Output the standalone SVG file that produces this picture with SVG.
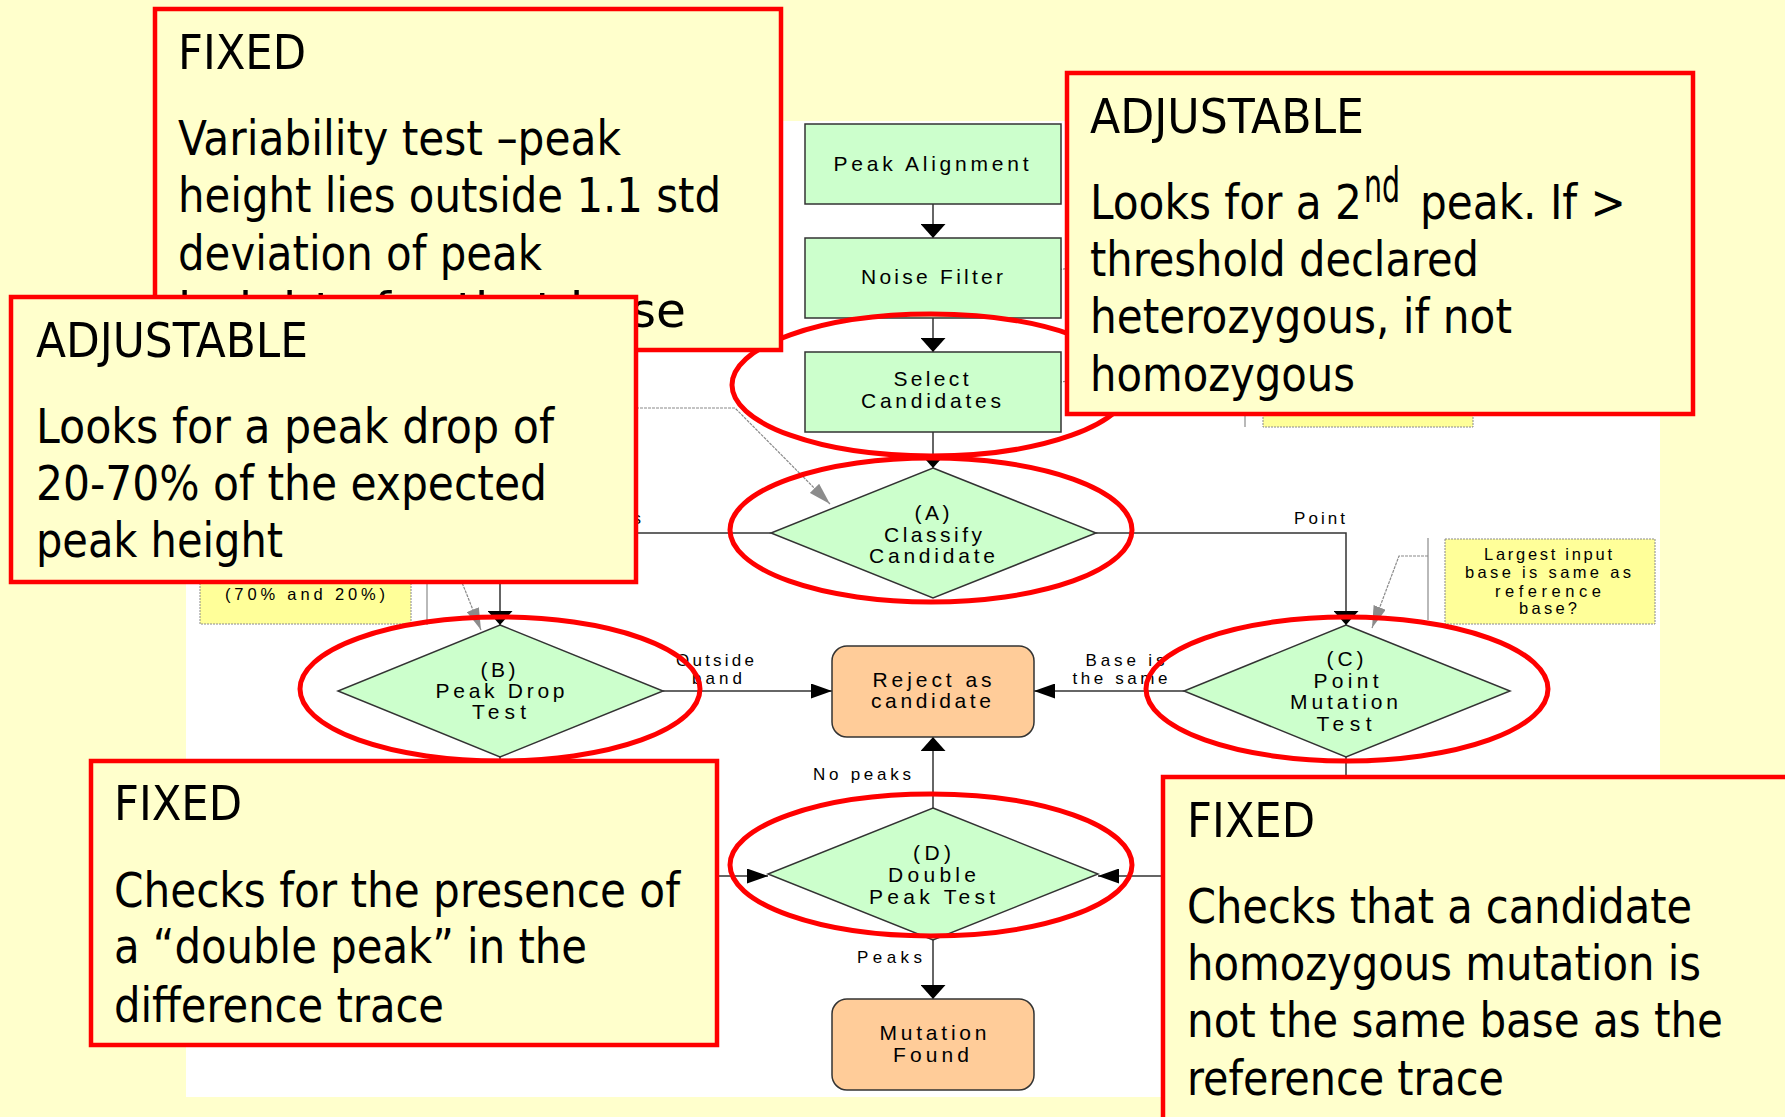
<svg xmlns="http://www.w3.org/2000/svg" width="1785" height="1117" viewBox="0 0 1785 1117">
  <style>
    .bg { fill: #FFFFCC; }
    .sheet { fill: #FFFFFF; }
    .proc { fill: #CCFFCC; stroke: #333333; stroke-width: 1.5; }
    .term { fill: #FFCC99; stroke: #333333; stroke-width: 1.5; }
    .note { fill: #FFFF99; stroke: #8A8A8A; stroke-width: 1; stroke-dasharray: 2 1; }
    .bracket { fill: none; stroke: #8A8A8A; stroke-width: 1.2; }
    .ft { font-family: "Liberation Sans", Arial, sans-serif; font-size: 21px; fill: #000000; text-anchor: middle; }
    .lbl { font-family: "Liberation Sans", Arial, sans-serif; font-size: 17px; fill: #000000; }
    .nt { font-family: "Liberation Sans", Arial, sans-serif; font-size: 16.5px; fill: #000000; text-anchor: middle; }
    .conn { fill: none; stroke: #333333; stroke-width: 1.5; }
    .ann { fill: none; stroke: #8A8A8A; stroke-width: 1.2; stroke-dasharray: 3 1; }
    .ring { fill: none; stroke: #FF0000; stroke-width: 5; }
    .callout { fill: #FFFFCC; stroke: #FF0000; stroke-width: 4.5; }
    .ct { font-family: Tahoma, "DejaVu Sans Condensed", "DejaVu Sans", sans-serif; font-size: 48px; fill: #000000; }
  </style>
  <defs>
    <marker id="arrowV" markerUnits="userSpaceOnUse" markerWidth="14" markerHeight="25" refX="14" refY="12.5" orient="auto">
      <path d="M0,0 L14,12.5 L0,25 Z" fill="#000000"/>
    </marker>
    <marker id="arrowH" markerUnits="userSpaceOnUse" markerWidth="21" markerHeight="15" refX="21" refY="7.5" orient="auto">
      <path d="M0,0 L21,7.5 L0,15 Z" fill="#000000"/>
    </marker>
    <marker id="arrowG" markerUnits="userSpaceOnUse" markerWidth="22" markerHeight="13" refX="22" refY="6.5" orient="auto">
      <path d="M0,0 L22,6.5 L0,13 Z" fill="#8C8C8C"/>
    </marker>
  </defs>

  <!-- slide background and flowchart sheet -->
  <rect class="bg" x="0" y="0" width="1785" height="1117"/>
  <rect class="sheet" x="186" y="121" width="1474" height="976"/>

  <!-- side notes of the flowchart -->
  <g id="note-band">
    <rect class="note" x="200" y="515" width="211" height="109"/>
    <text class="nt" x="305" y="600" textLength="160" lengthAdjust="spacing">(70% and 20%)</text>
    <line class="bracket" x1="427" y1="515" x2="427" y2="625"/>
  </g>
  <g id="note-threshold">
    <rect class="note" x="1263" y="375" width="210" height="52"/>
    <line class="bracket" x1="1245" y1="375" x2="1245" y2="427"/>
  </g>
  <g id="note-largest">
    <rect class="note" x="1445" y="539" width="210" height="85"/>
    <text class="nt" x="1548" y="560" textLength="128" lengthAdjust="spacing">Largest input</text>
    <text class="nt" x="1548" y="578" textLength="166" lengthAdjust="spacing">base is same as</text>
    <text class="nt" x="1548" y="597" textLength="106" lengthAdjust="spacing">reference</text>
    <text class="nt" x="1548" y="614" textLength="58" lengthAdjust="spacing">base?</text>
    <line class="bracket" x1="1428" y1="538" x2="1428" y2="620"/>
  </g>

  <!-- connectors -->
  <g id="connectors">
    <path class="conn" d="M933,204 V238" marker-end="url(#arrowV)"/>
    <path class="conn" d="M933,318 V352" marker-end="url(#arrowV)"/>
    <path class="conn" d="M933,432 V468" marker-end="url(#arrowV)"/>
    <path class="conn" d="M771,533 H500 V625" marker-end="url(#arrowV)"/>
    <path class="conn" d="M1096,533 H1346 V625" marker-end="url(#arrowV)"/>
    <path class="conn" d="M663,691 H832" marker-end="url(#arrowH)"/>
    <path class="conn" d="M1184,691 H1034" marker-end="url(#arrowH)"/>
    <path class="conn" d="M933,808 V737" marker-end="url(#arrowV)"/>
    <path class="conn" d="M933,940 V999" marker-end="url(#arrowV)"/>
    <path class="conn" d="M500,757 V876 H768" marker-end="url(#arrowH)"/>
    <path class="conn" d="M1346,757 V876 H1098" marker-end="url(#arrowH)"/>
    <!-- annotation leaders -->
    <path class="ann" d="M600,408 H735 L830,504" marker-end="url(#arrowG)"/>
    <path class="ann" d="M437,520 L481,630" marker-end="url(#arrowG)"/>
    <path class="ann" d="M1428,556 H1399 L1372,628" marker-end="url(#arrowG)"/>
    <path class="ann" d="M1070,268 L1050,271 L1027,274" marker-end="url(#arrowG)"/>
    <path class="ann" d="M1070,381 L1050,383 L1027,386" marker-end="url(#arrowG)"/>
    <!-- branch labels -->
    <text class="lbl" x="641" y="524" text-anchor="end">Heterozygous</text>
    <text class="lbl" x="1294" y="524" textLength="51" lengthAdjust="spacing">Point</text>
    <text class="lbl" x="715" y="666" text-anchor="middle" textLength="78" lengthAdjust="spacing">Outside</text>
    <text class="lbl" x="717" y="684" text-anchor="middle" textLength="50" lengthAdjust="spacing">band</text>
    <text class="lbl" x="1125" y="666" text-anchor="middle" textLength="79" lengthAdjust="spacing">Base is</text>
    <text class="lbl" x="1120" y="684" text-anchor="middle" textLength="95" lengthAdjust="spacing">the same</text>
    <text class="lbl" x="813" y="780" textLength="98" lengthAdjust="spacing">No peaks</text>
    <text class="lbl" x="857" y="963" textLength="65" lengthAdjust="spacing">Peaks</text>
  </g>

  <!-- flowchart nodes -->
  <g id="peak-alignment">
    <rect class="proc" x="805" y="124" width="256" height="80"/>
    <text class="ft" x="931" y="171" textLength="195" lengthAdjust="spacing">Peak Alignment</text>
  </g>
  <g id="noise-filter">
    <rect class="proc" x="805" y="238" width="256" height="80"/>
    <text class="ft" x="932" y="284" textLength="142" lengthAdjust="spacing">Noise Filter</text>
  </g>
  <g id="select-candidates">
    <rect class="proc" x="805" y="352" width="256" height="80"/>
    <text class="ft" x="931" y="386" textLength="75" lengthAdjust="spacing">Select</text>
    <text class="ft" x="931" y="408" textLength="140" lengthAdjust="spacing">Candidates</text>
  </g>
  <g id="classify-candidate">
    <polygon class="proc" points="933,468 1096,533 933,598 771,533"/>
    <text class="ft" x="932" y="520" textLength="35" lengthAdjust="spacing">(A)</text>
    <text class="ft" x="933" y="542" textLength="98" lengthAdjust="spacing">Classify</text>
    <text class="ft" x="932" y="563" textLength="126" lengthAdjust="spacing">Candidate</text>
  </g>
  <g id="peak-drop-test">
    <polygon class="proc" points="500,625 663,691 500,757 338,691"/>
    <text class="ft" x="498" y="677" textLength="35" lengthAdjust="spacing">(B)</text>
    <text class="ft" x="500" y="698" textLength="129" lengthAdjust="spacing">Peak Drop</text>
    <text class="ft" x="499" y="719" textLength="54" lengthAdjust="spacing">Test</text>
  </g>
  <g id="reject">
    <rect class="term" x="832" y="646" width="202" height="91" rx="15" ry="15"/>
    <text class="ft" x="932" y="687" textLength="119" lengthAdjust="spacing">Reject as</text>
    <text class="ft" x="931" y="708" textLength="120" lengthAdjust="spacing">candidate</text>
  </g>
  <g id="point-mutation-test">
    <polygon class="proc" points="1346,625 1510,691 1346,757 1184,691"/>
    <text class="ft" x="1345" y="666" textLength="37" lengthAdjust="spacing">(C)</text>
    <text class="ft" x="1346" y="688" textLength="65" lengthAdjust="spacing">Point</text>
    <text class="ft" x="1344" y="709" textLength="108" lengthAdjust="spacing">Mutation</text>
    <text class="ft" x="1344" y="731" textLength="55" lengthAdjust="spacing">Test</text>
  </g>
  <g id="double-peak-test">
    <polygon class="proc" points="933,808 1098,874 933,940 768,874"/>
    <text class="ft" x="932" y="860" textLength="38" lengthAdjust="spacing">(D)</text>
    <text class="ft" x="932" y="882" textLength="88" lengthAdjust="spacing">Double</text>
    <text class="ft" x="932" y="904" textLength="126" lengthAdjust="spacing">Peak Test</text>
  </g>
  <g id="mutation-found">
    <rect class="term" x="832" y="999" width="202" height="91" rx="15" ry="15"/>
    <text class="ft" x="933" y="1040" textLength="107" lengthAdjust="spacing">Mutation</text>
    <text class="ft" x="931" y="1062" textLength="76" lengthAdjust="spacing">Found</text>
  </g>

  <!-- highlight rings -->
  <g id="highlights">
    <ellipse class="ring" cx="931" cy="385" rx="199" ry="71"/>
    <ellipse class="ring" cx="931" cy="530" rx="201" ry="72"/>
    <ellipse class="ring" cx="500" cy="689" rx="200" ry="72"/>
    <ellipse class="ring" cx="1347" cy="689" rx="201" ry="72"/>
    <ellipse class="ring" cx="931" cy="865" rx="201" ry="71"/>
  </g>

  <!-- explanatory callouts -->
  <g id="callout-variability">
    <rect class="callout" x="155" y="9" width="626" height="341"/>
    <text class="ct" x="178" y="69" textLength="128" lengthAdjust="spacingAndGlyphs">FIXED</text>
    <text class="ct" x="178" y="155" textLength="443" lengthAdjust="spacingAndGlyphs">Variability test –peak</text>
    <text class="ct" x="178" y="212" textLength="543" lengthAdjust="spacingAndGlyphs">height lies outside 1.1 std</text>
    <text class="ct" x="178" y="270" textLength="364" lengthAdjust="spacingAndGlyphs">deviation of peak</text>
    <text class="ct" x="178" y="327" textLength="508" lengthAdjust="spacingAndGlyphs">heights for that base</text>
  </g>
  <g id="callout-double-peak">
    <rect class="callout" x="1067" y="73" width="626" height="341"/>
    <text class="ct" x="1090" y="133" textLength="274" lengthAdjust="spacingAndGlyphs">ADJUSTABLE</text>
    <text class="ct" x="1090" y="219" textLength="272" lengthAdjust="spacingAndGlyphs">Looks for a 2</text>
    <text class="ct" x="1364" y="202" font-size="28" textLength="36" lengthAdjust="spacingAndGlyphs">nd</text>
    <text class="ct" x="1420" y="219" textLength="206" lengthAdjust="spacingAndGlyphs">peak. If &gt;</text>
    <text class="ct" x="1090" y="276" textLength="389" lengthAdjust="spacingAndGlyphs">threshold declared</text>
    <text class="ct" x="1090" y="333" textLength="422" lengthAdjust="spacingAndGlyphs">heterozygous, if not</text>
    <text class="ct" x="1090" y="391" textLength="265" lengthAdjust="spacingAndGlyphs">homozygous</text>
  </g>
  <g id="callout-presence">
    <rect class="callout" x="91" y="761" width="626" height="284"/>
    <text class="ct" x="114" y="820" textLength="128" lengthAdjust="spacingAndGlyphs">FIXED</text>
    <text class="ct" x="114" y="907" textLength="566" lengthAdjust="spacingAndGlyphs">Checks for the presence of</text>
    <text class="ct" x="114" y="963" textLength="473" lengthAdjust="spacingAndGlyphs">a “double peak” in the</text>
    <text class="ct" x="114" y="1022" textLength="330" lengthAdjust="spacingAndGlyphs">difference trace</text>
  </g>
  <g id="callout-homozygous">
    <rect class="callout" x="1163" y="777" width="700" height="400"/>
    <text class="ct" x="1187" y="837" textLength="128" lengthAdjust="spacingAndGlyphs">FIXED</text>
    <text class="ct" x="1187" y="923" textLength="505" lengthAdjust="spacingAndGlyphs">Checks that a candidate</text>
    <text class="ct" x="1187" y="980" textLength="514" lengthAdjust="spacingAndGlyphs">homozygous mutation is</text>
    <text class="ct" x="1187" y="1037" textLength="536" lengthAdjust="spacingAndGlyphs">not the same base as the</text>
    <text class="ct" x="1187" y="1095" textLength="317" lengthAdjust="spacingAndGlyphs">reference trace</text>
  </g>
  <g id="callout-peak-drop">
    <rect class="callout" x="11" y="297" width="625" height="285"/>
    <text class="ct" x="36" y="357" textLength="272" lengthAdjust="spacingAndGlyphs">ADJUSTABLE</text>
    <text class="ct" x="36" y="443" textLength="518" lengthAdjust="spacingAndGlyphs">Looks for a peak drop of</text>
    <text class="ct" x="36" y="500" textLength="511" lengthAdjust="spacingAndGlyphs">20-70% of the expected</text>
    <text class="ct" x="36" y="557" textLength="247" lengthAdjust="spacingAndGlyphs">peak height</text>
  </g>
</svg>
